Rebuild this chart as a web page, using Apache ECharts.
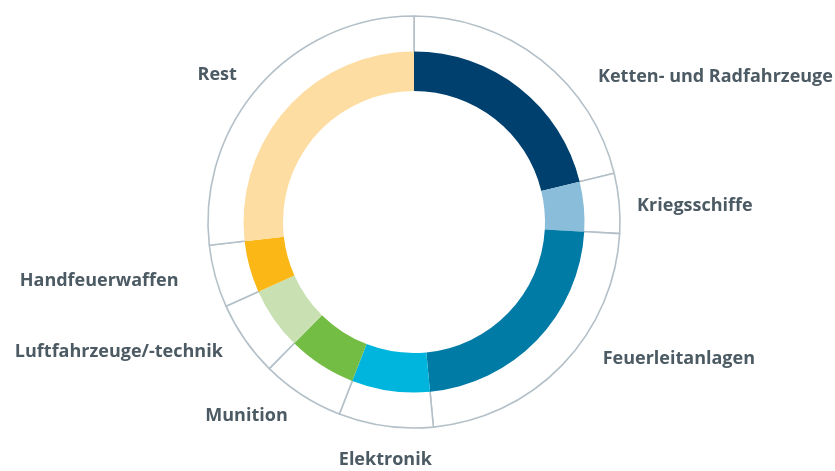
<!DOCTYPE html>
<html>
<head>
<meta charset="utf-8">
<script src="https://cdn.jsdelivr.net/npm/echarts@6/dist/echarts.min.js"></script>
<style>
  html, body { margin: 0; padding: 0; background: #fff; }
  #chart { width: 835px; height: 471px; }
</style>
</head>
<body>
<div id="chart"></div>
<script>
const categories = ['Ketten- und Radfahrzeuge', 'Kriegsschiffe', 'Feuerleitanlagen', 'Elektronik',
  'Munition', 'Luftfahrzeuge/-technik', 'Handfeuerwaffen', 'Rest'];
const shares = [21.2, 4.7, 22.6, 7.4, 6.5, 5.9, 4.9, 26.8];

const colors = ['#00406f', '#8abdd9', '#007ba6', '#00b5dd', '#74bd45', '#c8e0b2', '#fbb715', '#fedda2'];
const textColor = '#4b5a63';
const ringLine = '#b4c0c8';

// small nudges of the outside labels, [dx, dy]
const labelNudge = [[36, 22], [-5, 3], [19, -10], [64, 28], [6, 16], [0, 9], [-14, 3], [-2, -6]];

const chart = echarts.init(document.getElementById('chart'), null, { renderer: 'canvas' });

const option = {
  animation: false,
  series: [
    {
      // outer white ring, carries the labels
      type: 'pie',
      center: [414, 222],
      radius: [169, 206],
      startAngle: 90,
      clockwise: true,
      avoidLabelOverlap: false,
      silent: true,
      itemStyle: { color: '#fff', borderColor: ringLine, borderWidth: 1.6 },
      label: {
        show: true,
        position: 'outside',
        color: textColor,
        fontFamily: 'Open Sans',
        fontWeight: 'bold',
        fontSize: 18
      },
      labelLine: { show: false, length: 6, length2: 12 },
      labelLayout: (params) => ({
        dx: labelNudge[params.dataIndex][0],
        dy: labelNudge[params.dataIndex][1]
      }),
      data: categories.map((name, i) => ({ name: name, value: shares[i] }))
    },
    {
      // coloured ring
      type: 'pie',
      center: [414, 222],
      radius: [131, 170.5],
      startAngle: 90,
      clockwise: true,
      silent: true,
      label: { show: false },
      labelLine: { show: false },
      data: categories.map((name, i) => ({ name: name, value: shares[i], itemStyle: { color: colors[i] } }))
    }
  ]
};

chart.setOption(option);
</script>
</body>
</html>
